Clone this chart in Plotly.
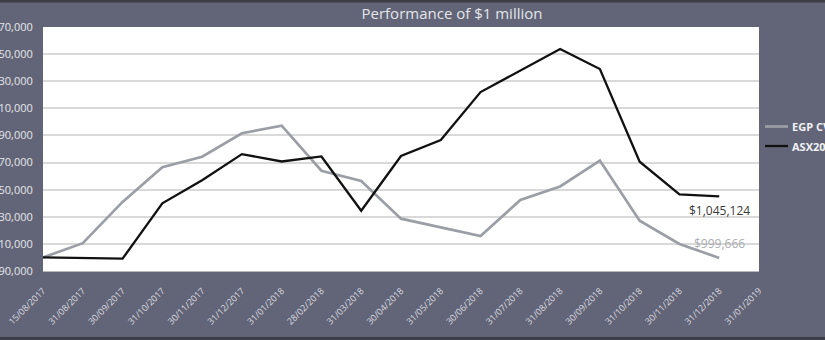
import plotly.graph_objects as go

# Month-end valuation dates (category axis)
dates = [
    "15/08/2017", "31/08/2017", "30/09/2017", "31/10/2017", "30/11/2017",
    "31/12/2017", "31/01/2018", "28/02/2018", "31/03/2018", "30/04/2018",
    "31/05/2018", "30/06/2018", "31/07/2018", "31/08/2018", "30/09/2018",
    "31/10/2018", "30/11/2018", "31/12/2018", "31/01/2019",
]

# Value of $1 million invested in each series
egp_cvf = [
    1000000, 1010500, 1041000, 1066500, 1074300, 1091600, 1097200, 1064000,
    1056400, 1028600, 1022200, 1015800, 1042400, 1052400, 1071500, 1027100,
    1009900, 999666,
]
asx200 = [
    1000000, 999700, 999100, 1039900, 1057000, 1076200, 1070800, 1074500,
    1034500, 1074800, 1086600, 1122000, 1137800, 1153800, 1139000, 1070600,
    1046600, 1045124,
]
series_names = ["EGP CVF", "ASX200 Accumulation"]

y_ticks = [990000 + 20000 * i for i in range(10)]

BG = "#626577"
TXT = "#e4e5ea"
GREY = "#9b9fa5"
BLACK = "#111111"
FONT = "Open Sans"

# Plot-area geometry in pixels, used to place the key beside the chart
W, H = 825, 340
L, R, T, B = 43, 66, 27, 69
PW, PH = W - L - R, H - T - B


def px_x(x):
    return (x - L) / PW


def px_y(y):
    return (H - B - y) / PH


fig = go.Figure()
styles = [dict(color=GREY, width=2.7), dict(color=BLACK, width=2.3)]
for name, vals, st in zip(series_names, [egp_cvf, asx200], styles):
    fig.add_trace(go.Scatter(x=dates[:len(vals)], y=vals, name=name,
                             mode="lines", line=st, showlegend=False))

# Key to the right of the plot area
for i, (name, st) in enumerate(zip(series_names, styles)):
    yy = px_y(126.5 + 19.5 * i)
    fig.add_shape(type="line", xref="paper", yref="paper",
                  x0=px_x(765), x1=px_x(788), y0=yy, y1=yy,
                  line=dict(color=st["color"], width=st["width"]))
    fig.add_annotation(xref="paper", yref="paper", x=px_x(790), y=yy,
                       xanchor="left", yanchor="middle", text="<b>%s</b>" % name,
                       showarrow=False,
                       font=dict(family=FONT, size=11, color="#f2f2f5"))

# End-of-period value labels
fig.add_annotation(x=dates[len(asx200) - 1], y=asx200[-1],
                   text="${:,}".format(asx200[-1]), showarrow=False,
                   yshift=-14, font=dict(family=FONT, size=12, color="#3a3a3a"))
fig.add_annotation(x=dates[len(egp_cvf) - 1], y=egp_cvf[-1],
                   text="${:,}".format(egp_cvf[-1]), showarrow=False,
                   yshift=14, font=dict(family=FONT, size=12, color="#a9acb1"))

# Thin dark frame strips along the top and bottom edges
fig.add_shape(type="rect", xref="paper", yref="paper", x0=-0.1, x1=1.2,
              y0=px_y(0), y1=px_y(2.5),
              fillcolor="#3c3d46", line_width=0, layer="below")
fig.add_shape(type="rect", xref="paper", yref="paper", x0=-0.1, x1=1.2,
              y0=px_y(337), y1=px_y(341),
              fillcolor="#3c3d46", line_width=0, layer="below")

fig.update_layout(
    width=W, height=H,
    margin=dict(l=L, r=R, t=T, b=B, autoexpand=False),
    paper_bgcolor=BG, plot_bgcolor="#ffffff",
    font=dict(family=FONT, color=TXT),
    title=dict(text="Performance of $1 million", xref="container",
               x=452 / W, xanchor="center",
               y=1 - 14 / H, yanchor="middle",
               font=dict(family=FONT, size=15, color=TXT)),
    showlegend=False,
    xaxis=dict(
        type="category", categoryorder="array", categoryarray=dates,
        range=[0, len(dates) - 1], tickangle=-45, showgrid=False,
        showline=True, linecolor="#b5b7bd", linewidth=1,
        ticks="outside", ticklen=10, tickcolor=BG,
        tickfont=dict(family=FONT, size=9, color="#d9dae0"),
    ),
    yaxis=dict(
        range=[y_ticks[0], y_ticks[-1]], tickvals=y_ticks, tickformat=",d",
        showgrid=True, gridcolor="#d9d9d9", gridwidth=1.5, zeroline=False,
        showline=False, ticks="outside", ticklen=7, tickcolor=BG,
        tickfont=dict(family=FONT, size=11, color="#e6e7ec"),
    ),
)

fig.write_html("out.html")
